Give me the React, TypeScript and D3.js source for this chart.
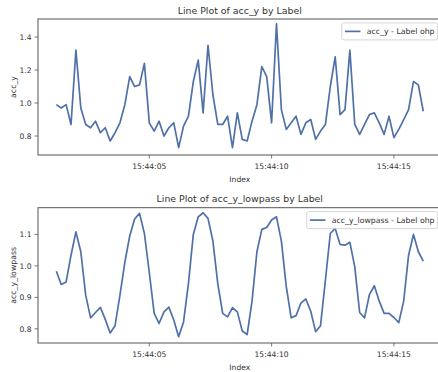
import React, { useEffect, useRef } from 'react';
import * as d3 from 'd3';

// samples at 5 Hz
const startTime = new Date(2024, 0, 1, 15, 44, 1, 200);
const samplePeriodMs = 200;

const accY = [
  0.99, 0.97, 0.99, 0.87, 1.32, 0.97, 0.87, 0.85, 0.89, 0.82,
  0.85, 0.77, 0.82, 0.88, 0.99, 1.16, 1.10, 1.11, 1.24, 0.88,
  0.83, 0.89, 0.80, 0.85, 0.88, 0.73, 0.86, 0.92, 1.13, 1.26,
  0.94, 1.35, 1.05, 0.87, 0.87, 0.92, 0.73, 0.94, 0.78, 0.77,
  0.89, 0.99, 1.22, 1.16, 0.88, 1.48, 0.96, 0.84, 0.88, 0.92,
  0.81, 0.88, 0.90, 0.78, 0.83, 0.87, 1.10, 1.28, 0.93, 0.96,
  1.32, 0.87, 0.81, 0.87, 0.93, 0.94, 0.88, 0.81, 0.92, 0.79,
  0.84, 0.90, 0.96, 1.13, 1.11, 0.95,
];

const accYLowpass = [
  0.983, 0.941, 0.949, 1.034, 1.108, 1.045, 0.907, 0.835, 0.852, 0.868,
  0.830, 0.787, 0.810, 0.907, 1.011, 1.095, 1.149, 1.167, 1.103, 0.979,
  0.849, 0.817, 0.854, 0.869, 0.828, 0.775, 0.822, 0.944, 1.100, 1.156,
  1.169, 1.151, 1.079, 0.944, 0.849, 0.838, 0.867, 0.854, 0.793, 0.782,
  0.888, 1.045, 1.116, 1.122, 1.146, 1.156, 1.079, 0.934, 0.835, 0.842,
  0.882, 0.895, 0.856, 0.791, 0.810, 0.955, 1.103, 1.119, 1.068, 1.066,
  1.075, 0.997, 0.852, 0.835, 0.909, 0.937, 0.888, 0.849, 0.849, 0.836,
  0.820, 0.888, 1.034, 1.100, 1.045, 1.015,
];

const timeTickLabels = ['15:44:05', '15:44:10', '15:44:15'];
const accYTicks = [0.8, 1.0, 1.2, 1.4];
const lowpassTicks = [0.8, 0.9, 1.0, 1.1];
const accYDomain = [0.685, 1.509];
const lowpassDomain = [0.755, 1.185];

const width = 438;
const height = 372;
const font = 'DejaVu Sans, sans-serif';
const lineColor = '#5070a8';
const textColor = '#333';
const spineColor = '#555';

const panels = [
  { key: 'acc_y', values: accY, ticks: accYTicks, domain: accYDomain, top: 19, bottom: 155 },
  { key: 'acc_y_lowpass', values: accYLowpass, ticks: lowpassTicks, domain: lowpassDomain, top: 207.7, bottom: 343 },
];

const App = () => {
  const chartRef = useRef(null);

  useEffect(() => {
    const svg = d3.select(chartRef.current);
    svg.selectAll('*').remove();

    const times = accY.map((_, i) => new Date(startTime.getTime() + i * samplePeriodMs));
    const span = times[times.length - 1].getTime() - times[0].getTime();
    const pad = span * 0.05;

    const left = 38;
    const right = 441.6;

    const xScale = d3.scaleTime()
      .domain([new Date(times[0].getTime() - pad), new Date(times[times.length - 1].getTime() + pad)])
      .range([left, right]);

    const parseTick = d3.timeParse('%H:%M:%S');
    const xTicks = timeTickLabels.map(label => {
      const t = parseTick(label);
      return new Date(2024, 0, 1, t.getHours(), t.getMinutes(), t.getSeconds());
    });

    svg.append('rect').attr('width', width).attr('height', height).attr('fill', '#fff');

    panels.forEach(panel => {
      const yScale = d3.scaleLinear().domain(panel.domain).range([panel.bottom, panel.top]);

      // title
      svg.append('text')
        .attr('x', (left + right) / 2)
        .attr('y', panel.top - 5.5)
        .attr('text-anchor', 'middle')
        .attr('font-family', font)
        .attr('font-size', 9.4)
        .attr('fill', textColor)
        .text(`Line Plot of ${panel.key} by Label`);

      // line
      const line = d3.line()
        .x((d, i) => xScale(times[i]))
        .y(d => yScale(d));

      svg.append('path')
        .datum(panel.values)
        .attr('d', line)
        .attr('fill', 'none')
        .attr('stroke', lineColor)
        .attr('stroke-width', 1.7)
        .attr('stroke-linejoin', 'round');

      // spines
      svg.append('rect')
        .attr('x', left)
        .attr('y', panel.top)
        .attr('width', right - left)
        .attr('height', panel.bottom - panel.top)
        .attr('fill', 'none')
        .attr('stroke', spineColor)
        .attr('stroke-width', 1);

      // y axis
      const yAxis = svg.append('g');
      panel.ticks.forEach(t => {
        const y = yScale(t);
        yAxis.append('line')
          .attr('x1', left - 3.5).attr('x2', left)
          .attr('y1', y).attr('y2', y)
          .attr('stroke', spineColor).attr('stroke-width', 0.8);
        yAxis.append('text')
          .attr('x', left - 6.5)
          .attr('y', y)
          .attr('dy', '0.35em')
          .attr('text-anchor', 'end')
          .attr('font-family', font)
          .attr('font-size', 7.6)
          .attr('fill', textColor)
          .text(d3.format('.1f')(t));
      });

      svg.append('text')
        .attr('transform', `translate(16, ${(panel.top + panel.bottom) / 2}) rotate(-90)`)
        .attr('text-anchor', 'middle')
        .attr('font-family', font)
        .attr('font-size', 7.8)
        .attr('fill', textColor)
        .text(panel.key);

      // x axis
      const xAxis = svg.append('g');
      xTicks.forEach(t => {
        const x = xScale(t);
        xAxis.append('line')
          .attr('x1', x).attr('x2', x)
          .attr('y1', panel.bottom).attr('y2', panel.bottom + 3.5)
          .attr('stroke', spineColor).attr('stroke-width', 0.8);
        xAxis.append('text')
          .attr('x', x)
          .attr('y', panel.bottom + 13.8)
          .attr('text-anchor', 'middle')
          .attr('font-family', font)
          .attr('font-size', 7.6)
          .attr('fill', textColor)
          .text(d3.timeFormat('%H:%M:%S')(t));
      });

      svg.append('text')
        .attr('x', (left + right) / 2)
        .attr('y', panel.bottom + 26.5)
        .attr('text-anchor', 'middle')
        .attr('font-family', font)
        .attr('font-size', 7.6)
        .attr('fill', textColor)
        .text('Index');

      // legend, upper right
      const fs = 7.8;
      const legend = svg.append('g');
      const box = legend.append('rect');
      const label = legend.append('text')
        .attr('font-family', font)
        .attr('font-size', fs)
        .attr('fill', textColor)
        .text(`${panel.key} - Label ohp`);
      const textW = label.node().getComputedTextLength();
      const boxW = 0.4 * fs + 2 * fs + 0.8 * fs + textW + 0.4 * fs;
      const boxH = 17;
      const boxRight = right - 0.5 * fs;
      const boxLeft = boxRight - boxW;
      const boxTop = panel.top + 0.5 * fs;
      box.attr('x', boxLeft).attr('y', boxTop)
        .attr('width', boxW).attr('height', boxH)
        .attr('rx', 2)
        .attr('fill', '#fff').attr('fill-opacity', 0.8)
        .attr('stroke', '#ccc').attr('stroke-width', 0.8);
      const midY = boxTop + boxH / 2;
      legend.append('line')
        .attr('x1', boxLeft + 0.4 * fs).attr('x2', boxLeft + 2.4 * fs)
        .attr('y1', midY).attr('y2', midY)
        .attr('stroke', lineColor).attr('stroke-width', 1.7);
      label.attr('x', boxLeft + 3.2 * fs).attr('y', midY).attr('dy', '0.35em');
    });
  });

  return (
    <div style={{ position: 'fixed', left: 0, top: 0 }}>
      <svg width={width} height={height} viewBox={`0 0 ${width} ${height}`} ref={chartRef} style={{ display: 'block' }} />
    </div>
  );
};

export default App;
